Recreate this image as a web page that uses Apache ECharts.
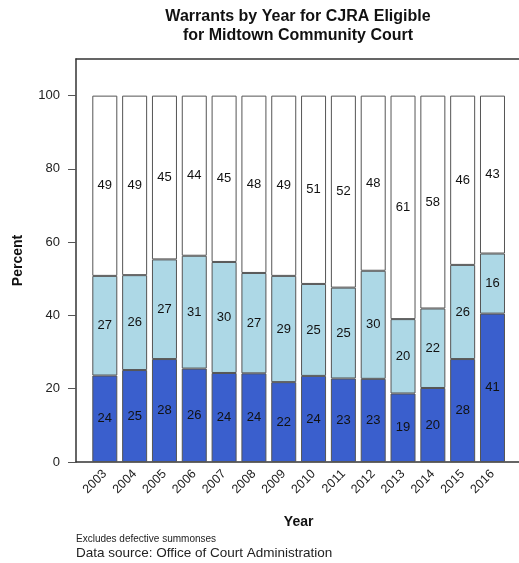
<!DOCTYPE html>
<html>
<head>
<meta charset="utf-8">
<script src="https://cdn.jsdelivr.net/npm/echarts@6/dist/echarts.min.js"></script>
<style>
  html, body { margin: 0; padding: 0; background: #fff; }
  #chart { width: 519px; height: 563px; }
</style>
</head>
<body>
<div id="chart"></div>
<script>
// 数据
var years = ['2003', '2004', '2005', '2006', '2007', '2008', '2009', '2010', '2011', '2012', '2013', '2014', '2015', '2016'];
var bottomPct = [23.6, 25.1, 28.1, 25.5, 24.3, 24.2, 21.8, 23.5, 22.8, 22.7, 18.7, 20.2, 28.1, 40.5];
var middlePct = [27.2, 25.9, 27.2, 30.8, 30.3, 27.4, 29.0, 25.1, 24.8, 29.5, 20.3, 21.7, 25.7, 16.4];
var topPct = [49.2, 49.0, 44.7, 43.7, 45.4, 48.4, 49.2, 51.4, 52.4, 47.8, 61.0, 58.1, 46.2, 43.1];
var yTicks = [0, 20, 40, 60, 80, 100];

var font = 'Liberation Sans, Arial, Helvetica, sans-serif';

function initChart() {
    var myChart = echarts.init(document.getElementById('chart'));

    var barLabel = {
        show: true,
        position: 'inside',
        color: '#111',
        fontSize: 13,
        fontFamily: font,
        formatter: function (p) {
            return Math.round(p.value);
        }
    };

    function makeSeries(name, data, color) {
        return {
            name: name,
            type: 'bar',
            stack: 'pct',
            xAxisIndex: 1,
            yAxisIndex: 1,
            data: data,
            barWidth: 25,
            itemStyle: {
                color: color,
                borderColor: '#555',
                borderWidth: 1
            },
            label: barLabel,
            emphasis: { disabled: true }
        };
    }

    var frameLine = { show: true, lineStyle: { color: '#333', width: 1.5 } };

    var option = {
        animation: false,
        textStyle: { fontFamily: font },
        grid: [
            // 外框 + 纵轴 (右边没有线)
            { left: 76, right: 0, top: 59, bottom: 101 },
            // 柱子
            { left: 89.9, width: 417.5, top: 59, bottom: 101 }
        ],
        xAxis: [
            { gridIndex: 0, type: 'value', min: 0, max: 1, position: 'bottom', axisLine: frameLine, axisTick: { show: false }, axisLabel: { show: false }, splitLine: { show: false } },
            {
                gridIndex: 1,
                type: 'category',
                data: years,
                axisLine: { show: false },
                axisTick: { show: false },
                axisLabel: { rotate: 45, margin: 10, fontSize: 12.5, color: '#222', fontFamily: font },
                name: 'Year',
                nameLocation: 'middle',
                nameGap: 53,
                nameTextStyle: { fontSize: 14, fontWeight: 'bold', color: '#111', fontFamily: font }
            },
            { gridIndex: 0, type: 'value', min: 0, max: 1, position: 'top', axisLine: frameLine, axisTick: { show: false }, axisLabel: { show: false }, splitLine: { show: false } }
        ],
        yAxis: [
            {
                gridIndex: 0,
                type: 'value',
                min: 0,
                max: 110,
                axisLine: frameLine,
                axisTick: { show: true, length: 8, customValues: yTicks, lineStyle: { color: '#555' } },
                axisLabel: { customValues: yTicks, fontSize: 13, color: '#222', margin: 16, fontFamily: font },
                splitLine: { show: false },
                name: 'Percent',
                nameLocation: 'middle',
                nameRotate: 90,
                nameGap: 51,
                nameTextStyle: { fontSize: 14, fontWeight: 'bold', color: '#111', fontFamily: font }
            },
            { gridIndex: 1, type: 'value', min: 0, max: 110, show: false, splitLine: { show: false } }
        ],
        series: [
            makeSeries('bottom', bottomPct, '#3a5fcd'),
            makeSeries('middle', middlePct, '#add8e6'),
            makeSeries('top', topPct, '#ffffff')
        ],
        graphic: [
            {
                type: 'text', x: 298, y: 7,
                style: {
                    text: 'Warrants by Year for CJRA Eligible\nfor Midtown Community Court',
                    textAlign: 'center', fontSize: 16, fontWeight: 'bold', lineHeight: 19,
                    fill: '#111', fontFamily: font
                }
            },
            {
                type: 'text', x: 76, y: 534,
                style: { text: 'Excludes defective summonses', fontSize: 10, fill: '#222', fontFamily: font }
            },
            {
                type: 'text', x: 76, y: 546,
                style: { text: 'Data source: Office of Court Administration', fontSize: 13.5, fill: '#222', fontFamily: font }
            }
        ]
    };

    myChart.setOption(option);
}

initChart();
</script>
</body>
</html>
